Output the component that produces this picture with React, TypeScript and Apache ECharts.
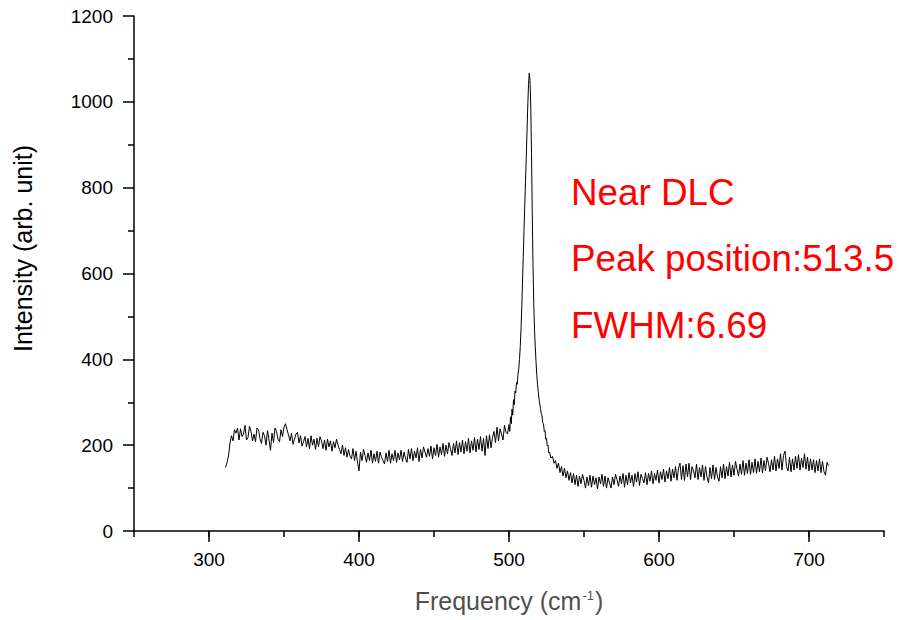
import React, { useEffect, useRef } from "react";
import * as echarts from "echarts";

// Left baseline: 311 .. 499 cm-1, 1 cm-1 steps
const leftStart = 311;
const leftValues = [
  148, 160, 175, 205, 222, 210, 236, 228, 240, 212,
  238, 220, 226, 246, 212, 218, 244, 232, 210, 226,
  208, 240, 236, 215, 204, 230, 222, 200, 234, 212,
  188, 228, 206, 240, 232, 214, 208, 236, 220, 242,
  250, 236, 224, 210, 228, 202, 214, 226, 230, 205,
  222, 198, 208, 220, 196, 216, 192, 222, 200, 214,
  190, 216, 196, 220, 210, 192, 212, 188, 214, 196,
  210, 186, 208, 194, 214, 200, 190, 180, 200, 176,
  194, 172, 190, 174, 168, 192, 164, 186, 160, 140,
  184, 164, 190, 176, 160, 182, 164, 188, 158, 180,
  162, 186, 158, 184, 172, 164, 156, 182, 162, 188,
  158, 180, 164, 188, 160, 182, 166, 188, 162, 184,
  170, 160, 190, 168, 192, 164, 186, 170, 194, 162,
  190, 170, 196, 184, 172, 192, 174, 198, 168, 194,
  176, 202, 172, 196, 178, 204, 174, 200, 180, 206,
  192, 176, 204, 182, 210, 178, 206, 184, 212, 180,
  208, 186, 216, 182, 210, 188, 218, 184, 214, 190,
  220, 186, 216, 176, 222, 192, 224, 194, 218, 232,
  206, 242, 210, 238, 226, 212, 246, 230, 226,
];

// Peak region: explicit frequencies
const peakFreq = [
  500, 500.5, 501, 501.5, 502, 502.5, 503, 503.5, 504, 504.5, 505, 505.5, 506, 506.5, 507, 507.5,
  508, 508.5, 509, 509.5, 510, 510.5, 511, 511.5, 512, 512.5, 513, 513.5, 514, 514.5, 515, 515.5,
  516, 516.5, 517, 517.5, 518, 518.5, 519, 519.5, 520, 520.5, 521, 521.5, 522, 522.5, 523, 523.5,
  524, 524.5, 525, 525.5, 526, 526.5,
];
const peakValues = [
  248, 232, 266, 250, 284, 270, 306, 294, 326, 322, 346, 342, 366, 378, 400, 430,
  470, 520, 580, 640, 700, 760, 815, 870, 930, 990, 1040, 1067, 1050, 990, 880, 740,
  620, 530, 470, 430, 395, 365, 342, 325, 308, 296, 285, 274, 268, 252, 250, 232,
  234, 214, 216, 198, 200, 182,
];

// Right baseline: 527 .. 713 cm-1, 1 cm-1 steps
const rightStart = 527;
const rightValues = [
  184, 170, 174, 158, 164, 146, 158, 136, 150, 128,
  146, 124, 140, 118, 136, 112, 134, 108, 130, 104,
  128, 110, 132, 118, 100, 126, 106, 130, 102, 128,
  108, 124, 98, 126, 110, 132, 104, 128, 100, 124,
  112, 100, 126, 108, 132, 120, 104, 128, 110, 134,
  102, 130, 108, 136, 112, 130, 104, 134, 114, 138,
  106, 132, 122, 112, 136, 108, 134, 116, 140, 110,
  134, 118, 142, 112, 138, 120, 144, 114, 140, 122,
  148, 116, 144, 124, 150, 118, 146, 158, 120, 152,
  118, 156, 126, 158, 120, 150, 140, 124, 156, 120,
  148, 126, 154, 118, 150, 126, 112, 148, 122, 154,
  120, 148, 126, 116, 150, 124, 156, 122, 150, 128,
  160, 126, 154, 130, 162, 144, 128, 156, 132, 164,
  130, 158, 134, 166, 132, 160, 136, 168, 134, 162,
  138, 170, 136, 164, 140, 172, 158, 138, 166, 142,
  174, 140, 168, 146, 180, 142, 176, 186, 150, 140,
  172, 138, 168, 142, 174, 146, 178, 142, 170, 148,
  180, 144, 172, 140, 168, 142, 166, 136, 164, 140,
  168, 136, 162, 138, 130, 160, 152,
];

const xMajorTicks = [300, 400, 500, 600, 700];
const annotations = ["Near DLC", "Peak position:513.5", "FWHM:6.69"];

export default function App() {
  const ref = useRef<HTMLDivElement>(null);

  useEffect(() => {
    if (!ref.current) return;
    const chart = echarts.init(ref.current, undefined, { renderer: "svg" });

    const data: number[][] = [];
    leftValues.forEach((v, i) => data.push([leftStart + i, v]));
    peakValues.forEach((v, i) => data.push([peakFreq[i], v]));
    rightValues.forEach((v, i) => data.push([rightStart + i, v]));

    const font = "Liberation Sans, Arial, sans-serif";
    const annY = [192.5, 258.5, 325.5];

    chart.setOption({
      animation: false,
      backgroundColor: "#ffffff",
      grid: { left: 134, right: 15, top: 16, bottom: 89, containLabel: false },
      xAxis: [
        {
          type: "value",
          min: 250,
          max: 750,
          interval: 50,
          position: "bottom",
          axisLine: { show: true, lineStyle: { color: "#000", width: 1.5 } },
          axisTick: { show: true, length: 6, lineStyle: { color: "#000", width: 1.5 } },
          axisLabel: {
            show: true,
            margin: 19,
            fontSize: 19,
            fontFamily: font,
            color: "#000",
            formatter: (v: number) => (v % 100 === 0 ? String(v) : ""),
          },
          splitLine: { show: false },
        },
        {
          type: "value",
          min: 250,
          max: 750,
          interval: 50,
          position: "bottom",
          axisLine: { show: false },
          axisTick: {
            show: true,
            length: 11,
            customValues: xMajorTicks,
            lineStyle: { color: "#000", width: 1.5 },
          },
          axisLabel: { show: false },
          splitLine: { show: false },
        },
      ],
      yAxis: {
        type: "value",
        min: 0,
        max: 1200,
        interval: 200,
        axisLine: { show: true, lineStyle: { color: "#000", width: 1.5 } },
        axisTick: { show: true, length: 11, lineStyle: { color: "#000", width: 1.5 } },
        minorTick: { show: true, splitNumber: 2, length: 6, lineStyle: { color: "#000", width: 1.5 } },
        axisLabel: {
          margin: 21,
          fontSize: 19,
          fontFamily: font,
          color: "#000",
          formatter: (v: number) => String(v),
        },
        splitLine: { show: false },
        minorSplitLine: { show: false },
      },
      series: [
        {
          type: "line",
          xAxisIndex: 0,
          yAxisIndex: 0,
          data,
          showSymbol: false,
          symbol: "none",
          lineStyle: { color: "#000", width: 1 },
        },
      ],
      graphic: [
        {
          type: "text",
          x: 22.5,
          y: 248.5,
          rotation: Math.PI / 2,
          style: {
            text: "Intensity (arb. unit)",
            font: `25px ${font}`,
            fill: "#000",
            textAlign: "center",
            textVerticalAlign: "middle",
          },
        },
        {
          type: "text",
          x: 509,
          y: 601,
          style: {
            text: "{a|Frequency (cm}{b|-1}{a|)}",
            textAlign: "center",
            textVerticalAlign: "middle",
            rich: {
              a: { fontSize: 25, fontFamily: font, fill: "#505050", color: "#505050", verticalAlign: "bottom" },
              b: {
                fontSize: 13,
                fontFamily: font,
                fill: "#505050",
                color: "#505050",
                verticalAlign: "top",
                padding: [0, 1, 0, 1],
              },
            },
          },
        },
        ...annotations.map((t, i) => ({
          type: "text",
          x: 571,
          y: annY[i],
          style: {
            text: t,
            font: `36.8px ${font}`,
            fill: "#ff0000",
            textAlign: "left",
            textVerticalAlign: "middle",
          },
        })),
      ],
    });

    return () => chart.dispose();
  }, []);

  return (
    <div
      ref={ref}
      style={{ position: "absolute", left: 0, top: 0, width: 899, height: 620 }}
    />
  );
}
